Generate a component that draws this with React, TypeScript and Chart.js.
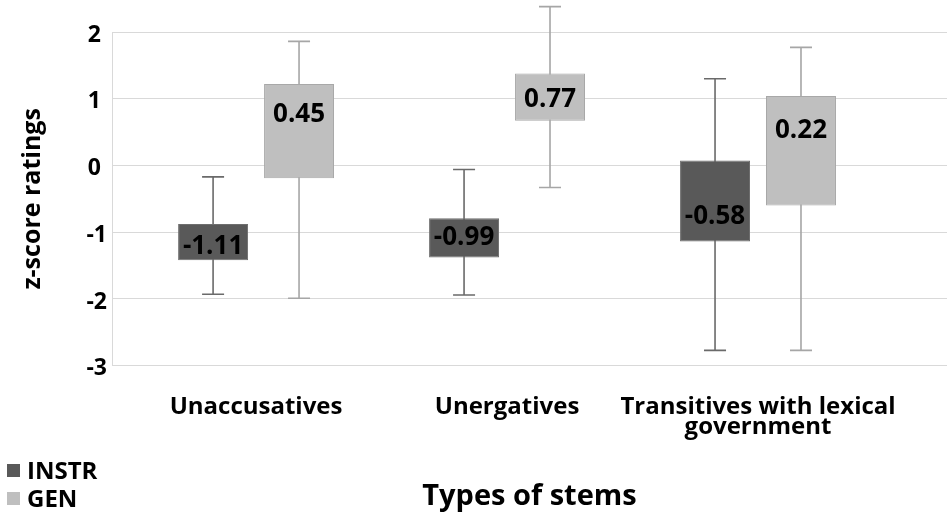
import React, { useRef, useEffect } from "react";
import { Chart, registerables } from "chart.js";

Chart.register(...registerables);

// categories and box-plot values (z-scores)
const categories: (string | string[])[] = [
  "Unaccusatives",
  "Unergatives",
  ["Transitives with lexical", "government"],
];

const instrMean = [-1.11, -0.99, -0.58];
const instrQ1 = [-1.42, -1.38, -1.14];
const instrQ3 = [-0.875, -0.79, 0.075];
const instrMin = [-1.93, -1.94, -2.77];
const instrMax = [-0.17, -0.06, 1.3];
const instrLabelAt = [-1.19, -1.06, -0.74];

const genMean = [0.45, 0.77, 0.22];
const genQ1 = [-0.19, 0.67, -0.6];
const genQ3 = [1.22, 1.38, 1.04];
const genMin = [-1.99, -0.33, -2.77];
const genMax = [1.86, 2.38, 1.77];
const genLabelAt = [0.79, 1.01, 0.545];

const yTicks = [-3, -2, -1, 0, 1, 2];

const FONT = "'Open Sans', 'DejaVu Sans', sans-serif";
const INSTR_FILL = "#595959";
const GEN_FILL = "#bfbfbf";

const toBoxes = (lo: number[], hi: number[]) => lo.map((v, i) => ({ x: i, y: [v, hi[i]] }));

// whiskers with caps, drawn under the boxes
const whiskerPlugin = {
  id: "whiskers",
  beforeDatasetsDraw(chart: any) {
    const { ctx, scales } = chart;
    const y = scales.y;
    chart.data.datasets.forEach((ds: any, di: number) => {
      const meta = chart.getDatasetMeta(di);
      meta.data.forEach((bar: any, i: number) => {
        const top = y.getPixelForValue(ds.whiskerMax[i]);
        const bottom = y.getPixelForValue(ds.whiskerMin[i]);
        ctx.save();
        ctx.strokeStyle = ds.whiskerColor;
        ctx.lineWidth = 1.6;
        ctx.beginPath();
        ctx.moveTo(bar.x, top);
        ctx.lineTo(bar.x, bottom);
        ctx.moveTo(bar.x - 11, top);
        ctx.lineTo(bar.x + 11, top);
        ctx.moveTo(bar.x - 11, bottom);
        ctx.lineTo(bar.x + 11, bottom);
        ctx.stroke();
        ctx.restore();
      });
    });
  },
};

// value labels inside the boxes
const valueLabelPlugin = {
  id: "valueLabels",
  afterDatasetsDraw(chart: any) {
    const { ctx, scales } = chart;
    ctx.save();
    ctx.font = `bold 26px ${FONT}`;
    ctx.fillStyle = "#000";
    ctx.textAlign = "center";
    ctx.textBaseline = "alphabetic";
    chart.data.datasets.forEach((ds: any, di: number) => {
      const meta = chart.getDatasetMeta(di);
      meta.data.forEach((bar: any, i: number) => {
        const py = scales.y.getPixelForValue(ds.labelAt[i]);
        ctx.fillText(ds.means[i].toFixed(2), bar.x, py + 9);
      });
    });
    ctx.restore();
  },
};

// legend stacked at the bottom-left
const legendPlugin = {
  id: "stackLegend",
  afterDraw(chart: any) {
    const { ctx } = chart;
    ctx.save();
    ctx.font = `bold 24px ${FONT}`;
    ctx.textBaseline = "alphabetic";
    ctx.textAlign = "left";
    chart.data.datasets.forEach((ds: any, i: number) => {
      const base = 479 + i * 28;
      ctx.fillStyle = ds.backgroundColor;
      ctx.fillRect(7, base - 15, 13, 13);
      ctx.fillStyle = "#000";
      ctx.fillText(ds.label, 27, base);
    });
    ctx.restore();
  },
};

export default function App() {
  const canvasRef = useRef<HTMLCanvasElement>(null);

  useEffect(() => {
    if (!canvasRef.current) return;
    const chart = new Chart(canvasRef.current, {
      type: "bar",
      data: {
        datasets: [
          {
            label: "INSTR",
            data: toBoxes(instrQ1, instrQ3),
            backgroundColor: INSTR_FILL,
            borderColor: "#6e6e6e",
            borderWidth: 1,
            borderSkipped: false,
            whiskerMin: instrMin,
            whiskerMax: instrMax,
            whiskerColor: "#6a6a6a",
            means: instrMean,
            labelAt: instrLabelAt,
          },
          {
            label: "GEN",
            data: toBoxes(genQ1, genQ3),
            backgroundColor: GEN_FILL,
            borderColor: "#a8a8a8",
            borderWidth: 1,
            borderSkipped: false,
            whiskerMin: genMin,
            whiskerMax: genMax,
            whiskerColor: "#a6a6a6",
            means: genMean,
            labelAt: genLabelAt,
          },
        ] as any,
      },
      options: {
        animation: false,
        responsive: true,
        maintainAspectRatio: false,
        categoryPercentage: 0.685,
        barPercentage: 0.814,
        layout: { padding: { top: 32, right: 3, left: 0, bottom: 0 } },
        plugins: {
          legend: { display: false },
          tooltip: { enabled: false },
        },
        scales: {
          x: {
            type: "linear",
            min: -0.574,
            max: 2.753,
            offset: false,
            afterBuildTicks: (scale: any) => {
              scale.ticks = categories.map((_, i) => ({ value: i }));
            },
            afterFit: (scale: any) => {
              scale.height = 158.3;
            },
            grid: { display: false },
            border: { display: false },
            ticks: {
              autoSkip: false,
              maxRotation: 0,
              padding: 24,
              color: "#000",
              font: { family: FONT, size: 24, weight: "bold", lineHeight: 0.82 },
              callback: (v: any) => categories[Math.round(Number(v))] as any,
            },
            title: {
              display: true,
              text: "Types of stems",
              color: "#000",
              font: { family: FONT, size: 29, weight: "bold" },
              padding: { top: 0, bottom: 10 },
            },
          },
          y: {
            min: -3,
            max: 2,
            afterBuildTicks: (scale: any) => {
              scale.ticks = yTicks.map((v) => ({ value: v }));
            },
            afterFit: (scale: any) => {
              scale.width = 112;
            },
            grid: { color: "#d9d9d9", lineWidth: 1, drawTicks: false },
            border: { display: true, color: "#d9d9d9", width: 1 },
            ticks: {
              padding: 5,
              labelOffset: 3,
              color: "#000",
              font: { family: FONT, size: 23, weight: "bold" },
              callback: (v: any) => (Number(v) >= 0 ? `${v} ` : `${v}`),
            },
            title: {
              display: true,
              text: "z-score ratings",
              color: "#000",
              font: { family: FONT, size: 25, weight: "bold" },
              padding: { top: 18, bottom: 0 },
            },
          },
        },
      } as any,
      plugins: [whiskerPlugin, valueLabelPlugin, legendPlugin],
    });
    return () => chart.destroy();
  }, []);

  return (
    <div style={{ position: "fixed", left: 0, top: 0, width: 950, height: 524, background: "#fff" }}>
      <canvas ref={canvasRef} />
    </div>
  );
}
